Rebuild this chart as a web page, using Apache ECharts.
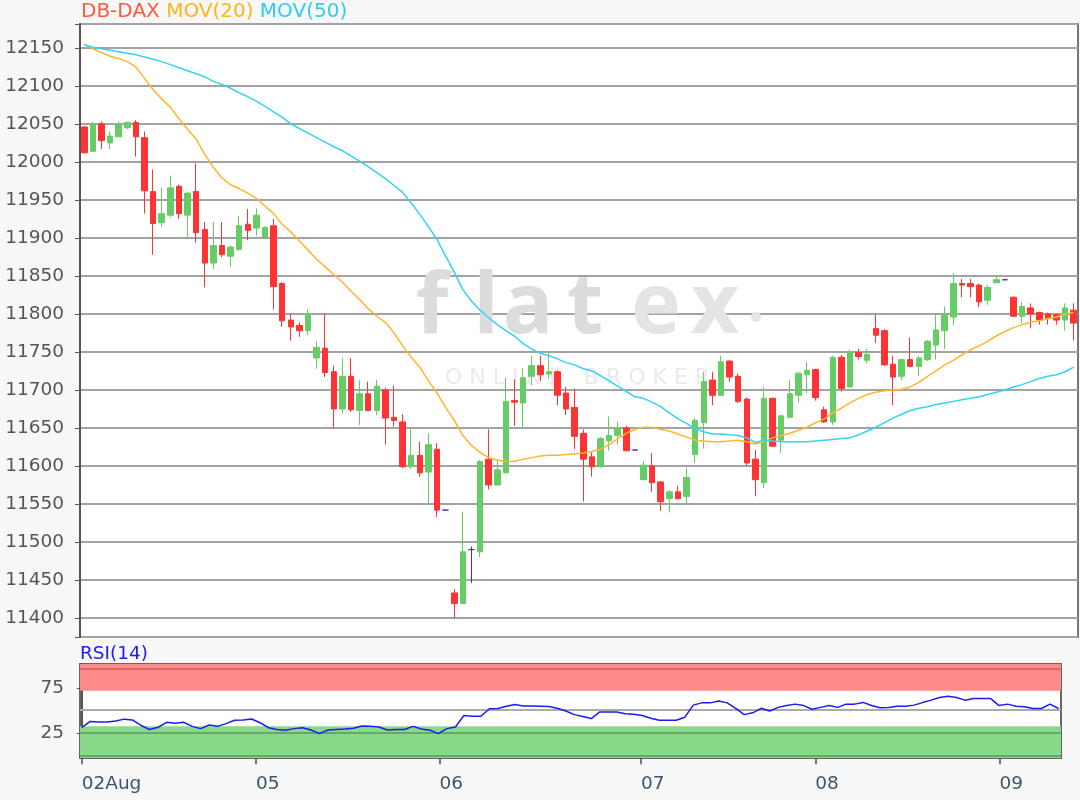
<!DOCTYPE html>
<html>
<head>
<meta charset="utf-8">
<title>DB-DAX</title>
<script src="https://cdn.jsdelivr.net/npm/echarts@6.0.0/dist/echarts.min.js"></script>
<style>
  html, body { margin: 0; padding: 0; background: #f7f7f7; }
  #chart { width: 1080px; height: 800px; }
</style>
</head>
<body>
<div id="chart"></div>
<script>
// candles (open / close / low / high)
const open = [
  12046, 12014, 12050, 12025, 12033, 12045, 12052, 12032, 11961, 11920,
  11930, 11968, 11930, 11961, 11911, 11867, 11890, 11876, 11885, 11918,
  11913, 11901, 11916, 11840, 11792, 11785, 11778, 11742, 11755, 11724,
  11675, 11718, 11673, 11695, 11673, 11700, 11664, 11658, 11599, 11614,
  11592, 11622, 11542, 11433, 11419, 11490, 11487, 11609, 11575, 11591,
  11686, 11683, 11718, 11732, 11721, 11724, 11696, 11677, 11643, 11612,
  11599, 11633, 11640, 11650, 11621, 11582, 11600, 11579, 11557, 11566,
  11560, 11615, 11657, 11713, 11693, 11738, 11718, 11688, 11609, 11578,
  11689, 11634, 11664, 11693, 11720, 11727, 11674, 11658, 11743, 11704,
  11749, 11739, 11781, 11778, 11734, 11718, 11740, 11731, 11740, 11759,
  11778, 11796, 11840, 11840, 11838, 11818, 11841, 11845, 11822, 11797,
  11808, 11802, 11800, 11799, 11792, 11805
];
const close = [
  12012, 12049, 12028, 12034, 12049, 12052, 12033, 11962, 11919, 11932,
  11966, 11932, 11959, 11907, 11867, 11890, 11878, 11888, 11916, 11910,
  11930, 11914, 11836, 11791, 11783, 11778, 11800, 11756, 11723, 11675,
  11718, 11674, 11695, 11673, 11705, 11663, 11660, 11599, 11614, 11591,
  11628, 11542, 11542, 11419, 11487, 11490, 11606, 11575, 11595, 11685,
  11684, 11716, 11732, 11720, 11724, 11693, 11675, 11639, 11609, 11599,
  11636, 11640, 11650, 11620, 11621, 11601, 11578, 11553, 11566, 11557,
  11585, 11660, 11711, 11693, 11737, 11717, 11685, 11604, 11582, 11689,
  11626, 11666, 11695, 11722, 11726, 11690, 11658, 11743, 11702, 11750,
  11744, 11747, 11772, 11733, 11717, 11740, 11731, 11742, 11764, 11779,
  11799, 11840, 11838, 11836, 11816, 11835, 11845, 11845, 11797, 11810,
  11800, 11792, 11794, 11792, 11808, 11788
];
const low = [
  12011, 12013, 12017, 12017, 12033, 12043, 12007, 11932, 11878, 11915,
  11927, 11925, 11900, 11894, 11835, 11859, 11875, 11862, 11883, 11897,
  11903, 11900, 11806, 11783, 11765, 11770, 11772, 11728, 11717, 11651,
  11669, 11671, 11654, 11672, 11667, 11628, 11652, 11597, 11596, 11586,
  11551, 11533, 11542, 11400, 11419, 11446, 11480, 11569, 11575, 11590,
  11653, 11650, 11706, 11712, 11715, 11680, 11667, 11622, 11553, 11586,
  11598, 11620, 11628, 11620, 11621, 11581, 11566, 11541, 11539, 11556,
  11551, 11604, 11623, 11680, 11692, 11711, 11683, 11600, 11560, 11571,
  11626, 11617, 11663, 11683, 11696, 11686, 11657, 11654, 11698, 11703,
  11740, 11735, 11762, 11732, 11680, 11713, 11730, 11718, 11738, 11740,
  11754, 11785, 11822, 11822, 11809, 11812, 11841, 11845, 11797, 11788,
  11781, 11786, 11786, 11786, 11778, 11765
];
const high = [
  12047, 12053, 12053, 12040, 12053, 12053, 12055, 12040, 11990, 11966,
  11982, 11970, 11961, 11998, 11921, 11921, 11921, 11890, 11929, 11938,
  11939, 11915, 11925, 11842, 11800, 11789, 11806, 11764, 11800, 11732,
  11742, 11742, 11713, 11711, 11713, 11703, 11706, 11668, 11650, 11632,
  11643, 11630, 11542, 11438, 11540, 11494, 11608, 11648, 11607, 11716,
  11714, 11729, 11745, 11745, 11749, 11726, 11704, 11702, 11648, 11618,
  11638, 11665, 11658, 11653, 11621, 11606, 11617, 11580, 11568, 11574,
  11598, 11663, 11724, 11724, 11745, 11739, 11722, 11690, 11621, 11704,
  11690, 11667, 11713, 11724, 11737, 11728, 11678, 11745, 11746, 11753,
  11754, 11754, 11799, 11780, 11745, 11741, 11769, 11745, 11766, 11799,
  11810, 11853, 11846, 11846, 11840, 11838, 11850, 11845, 11823, 11816,
  11814, 11803, 11802, 11800, 11814, 11814
];

// moving averages
const mov20 = [
  12155, 12149, 12144, 12139, 12136, 12132, 12125, 12110, 12095, 12083,
  12072, 12057, 12043, 12030, 12010, 11993, 11979, 11970, 11965, 11959,
  11952, 11942, 11932, 11918, 11908, 11896, 11884, 11872, 11862, 11852,
  11842, 11830, 11819, 11807, 11797, 11789, 11775, 11758, 11743, 11730,
  11712, 11696, 11677, 11660, 11640, 11627, 11618, 11611, 11608, 11606,
  11606, 11609, 11611, 11613, 11614, 11614, 11615, 11616, 11617, 11619,
  11622, 11628, 11636, 11643, 11648, 11651, 11651, 11648, 11646, 11642,
  11638, 11634, 11633, 11632, 11632, 11633, 11634, 11632, 11629, 11632,
  11637, 11640, 11643, 11647, 11651, 11657, 11662, 11670, 11676, 11683,
  11689, 11694, 11697, 11699, 11700, 11701, 11704, 11710, 11718, 11725,
  11733, 11739, 11746, 11753, 11758, 11764, 11771, 11777, 11782, 11786,
  11789, 11791, 11794, 11796, 11800, 11802
];
const mov50 = [
  12154, 12151, 12149, 12147, 12145, 12143, 12141, 12138, 12135, 12132,
  12128, 12124, 12120, 12116, 12112, 12106, 12102, 12097, 12091, 12086,
  12080, 12073, 12066, 12059, 12050, 12044, 12038, 12032, 12026, 12020,
  12015, 12008, 12001, 11994, 11986, 11978, 11969, 11960, 11946, 11931,
  11915, 11898, 11876, 11855, 11832, 11817, 11805, 11795, 11786, 11778,
  11771, 11761, 11754, 11748, 11745, 11741, 11736, 11733, 11728, 11725,
  11719, 11712, 11705, 11698, 11691, 11689, 11684, 11678, 11670, 11662,
  11656, 11649, 11645, 11642, 11642, 11641, 11640, 11637, 11631, 11634,
  11633, 11632, 11632, 11632, 11632, 11633, 11634, 11635, 11636, 11637,
  11641, 11646, 11651, 11657, 11663, 11668, 11673, 11676, 11678, 11681,
  11683, 11685, 11687, 11689, 11691, 11694, 11697, 11700, 11704, 11707,
  11711, 11715, 11718, 11720, 11724, 11730
];

// RSI(14)
const rsi = [
  31.7, 38.5, 37.9, 37.9, 39, 41, 40, 34, 29.5, 32,
  37.5, 36.5, 37.5, 33, 30.5, 34.5, 33, 36, 39.8, 40,
  41.2, 37, 31.5, 29.5, 28.7, 30.5, 31.5, 29, 25, 29,
  29.5, 30, 31, 33.5, 33, 32.3, 29, 29.5, 29.5, 33,
  30, 28.7, 25, 30.5, 32.3, 45, 44.2, 44.2, 52.5, 52.8,
  55.3, 57.2, 55.5, 55.5, 55.3, 55, 53, 50, 46, 44,
  41.6, 49, 49, 49, 47, 46.4, 45, 42, 39.8, 39.8,
  39.8, 43, 56.5, 59, 59, 61, 59, 53, 46, 48,
  53, 50, 54, 56, 57.6, 56, 52, 54, 56, 54,
  57.6, 57.6, 59.5, 56, 53.5, 54, 55.3, 55.3, 56.5, 59.3,
  62, 65, 66.4, 65, 62, 63.9, 63.9, 63.9, 56, 57.6,
  55.3, 54.8, 52.8, 52.8, 57.6, 52.8
];

// day ticks on the bottom axis (position in candle units)
const dayTicks = [0, 20.53, 42.12, 65.84, 86.37, 108.05];
const dayLabels = ['02Aug', '05', '06', '07', '08', '09'];
const rsiTicks = [25, 75];

const FONT = 'DejaVu Sans';
const UP = '#66cc66';
const DOWN = '#ff3333';
const DOJI = '#5522cc';

const categories = open.map(function (o, i) { return String(i); });
const candles = open.map(function (o, i) {
  let item = { value: [o, close[i], low[i], high[i]] };
  if (o === close[i]) {
    item.itemStyle = { color: DOJI, color0: DOJI, borderColor: DOJI, borderColor0: DOJI };
  }
  return item;
});
const rsiPoints = rsi.map(function (v, i) { return [i, v]; });

function dayLabel (v) {
  let best = 0;
  for (let k = 1; k < dayTicks.length; k++) {
    if (Math.abs(dayTicks[k] - v) < Math.abs(dayTicks[best] - v)) best = k;
  }
  return dayLabels[best];
}

function mark (text, x, fill) {
  return {
    type: 'text', z: 1, silent: true, x: x, y: 309,
    style: { text: text, fill: fill, font: '700 84px "Open Sans"', textAlign: 'center', textVerticalAlign: 'middle' }
  };
}

let chart = echarts.init(document.getElementById('chart'));
chart.setOption({
  backgroundColor: '#f7f7f7',
  animation: false,
  textStyle: { fontFamily: FONT },
  title: [
    {
      left: 81,
      top: 2,
      padding: 0,
      text: '{a|DB-DAX} {b|MOV(20)} {c|MOV(50)}',
      textStyle: {
        fontSize: 20,
        fontWeight: 'normal',
        rich: {
          a: { color: '#ff5a3c', fontSize: 20, fontFamily: FONT },
          b: { color: '#ffb31a', fontSize: 20, fontFamily: FONT },
          c: { color: '#2ccdf0', fontSize: 20, fontFamily: FONT }
        }
      }
    },
    {
      left: 80,
      top: 645,
      padding: 0,
      text: 'RSI(14)',
      textStyle: { color: '#2020ee', fontSize: 18.5, fontWeight: 'normal', fontFamily: FONT }
    }
  ],
  graphic: [
    // flatex watermark
    mark('f', 432, '#dcdcdc'),
    mark('l', 486, '#dcdcdc'),
    mark('a', 528, '#dcdcdc'),
    mark('t', 585, '#dcdcdc'),
    mark('e', 656, '#e4e4e4'),
    mark('x', 715, '#e4e4e4'),
    { type: 'circle', z: 1, silent: true, shape: { cx: 756, cy: 317, r: 5 }, style: { fill: '#e4e4e4' } },
    { type: 'text', z: 1, silent: true, x: 445, y: 378, style: { text: 'O N L I N E   B R O K E R', fill: '#eaeaea', font: '22px "DejaVu Sans"', textAlign: 'left', textVerticalAlign: 'middle' } }
  ],
  grid: [
    { left: 80, right: 2, top: 24, bottom: 163, show: true, backgroundColor: '#fff', borderColor: '#777', borderWidth: 2 },
    { left: 80, right: 19, top: 664, bottom: 42, show: true, backgroundColor: '#fff', borderColor: '#666', borderWidth: 2 }
  ],
  xAxis: [
    {
      type: 'category',
      gridIndex: 0,
      data: categories,
      boundaryGap: true,
      axisLine: { show: false },
      axisTick: { show: false },
      axisLabel: { show: false },
      splitLine: { show: false }
    },
    {
      type: 'value',
      gridIndex: 1,
      min: -0.2,
      max: 115.3,
      axisLine: { show: true, lineStyle: { color: '#555', width: 2 } },
      axisTick: { show: true, customValues: dayTicks, length: 8, lineStyle: { color: '#3e5468', width: 1.5 } },
      axisLabel: {
        customValues: dayTicks,
        formatter: dayLabel,
        align: 'left',
        margin: 17,
        fontSize: 18.5,
        color: '#3e5468',
        fontFamily: FONT
      },
      splitLine: { show: false }
    }
  ],
  yAxis: [
    {
      type: 'value',
      gridIndex: 0,
      min: 11375,
      max: 12181.5,
      splitNumber: 16,
      minInterval: 50,
      maxInterval: 50,
      axisLine: { show: true, lineStyle: { color: '#555', width: 2 } },
      axisTick: { show: true, length: 5, lineStyle: { color: '#555' } },
      axisLabel: {
        fontSize: 18.5,
        color: '#555',
        margin: 16,
        fontFamily: FONT,
        formatter: function (v) { return v % 50 === 0 ? String(v) : ''; }
      },
      splitLine: { show: true, lineStyle: { color: '#a3a3a3', width: 2 } }
    },
    {
      type: 'value',
      gridIndex: 1,
      min: -2,
      max: 102,
      axisLine: { show: true, lineStyle: { color: '#555', width: 2 } },
      axisTick: { show: true, customValues: rsiTicks, length: 5, lineStyle: { color: '#555' } },
      axisLabel: { customValues: rsiTicks, fontSize: 18.5, color: '#555', margin: 16, fontFamily: FONT },
      splitLine: { show: false }
    }
  ],
  series: [
    {
      name: 'DB-DAX',
      type: 'candlestick',
      xAxisIndex: 0,
      yAxisIndex: 0,
      data: candles,
      barWidth: 6,
      z: 3,
      itemStyle: { color: UP, color0: DOWN, borderColor: UP, borderColor0: DOWN, borderWidth: 1 }
    },
    {
      name: 'MOV(20)',
      type: 'line',
      xAxisIndex: 0,
      yAxisIndex: 0,
      data: mov20,
      symbol: 'none',
      z: 4,
      lineStyle: { color: '#ffb62b', width: 1.5 }
    },
    {
      name: 'MOV(50)',
      type: 'line',
      xAxisIndex: 0,
      yAxisIndex: 0,
      data: mov50,
      symbol: 'none',
      z: 4,
      lineStyle: { color: '#33d3f5', width: 1.5 }
    },
    {
      // overbought / oversold bands
      name: 'bands',
      type: 'line',
      xAxisIndex: 1,
      yAxisIndex: 1,
      data: rsiPoints,
      symbol: 'none',
      silent: true,
      z: 1,
      lineStyle: { opacity: 0 },
      markArea: {
        silent: true,
        data: [
          [{ yAxis: 72.3, itemStyle: { color: '#ff8a8a' } }, { yAxis: 102 }],
          [{ yAxis: -2, itemStyle: { color: '#8ad88a' } }, { yAxis: 33 }]
        ]
      },
      markLine: {
        silent: true,
        symbol: 'none',
        label: { show: false },
        data: [
          { yAxis: 97.2, lineStyle: { color: '#cc6060', width: 1.5, type: 'solid' } },
          { yAxis: 50.9, lineStyle: { color: '#aaaaaa', width: 2, type: 'solid' } },
          { yAxis: 25.7, lineStyle: { color: '#5a9a5a', width: 1.5, type: 'solid' } },
          { yAxis: 1, lineStyle: { color: '#5a9a5a', width: 1.5, type: 'solid' } }
        ]
      }
    },
    {
      name: 'RSI(14)',
      type: 'line',
      xAxisIndex: 1,
      yAxisIndex: 1,
      data: rsiPoints,
      symbol: 'none',
      z: 5,
      lineStyle: { color: '#1c1cf0', width: 1.5 }
    }
  ]
});
</script>
</body>
</html>
